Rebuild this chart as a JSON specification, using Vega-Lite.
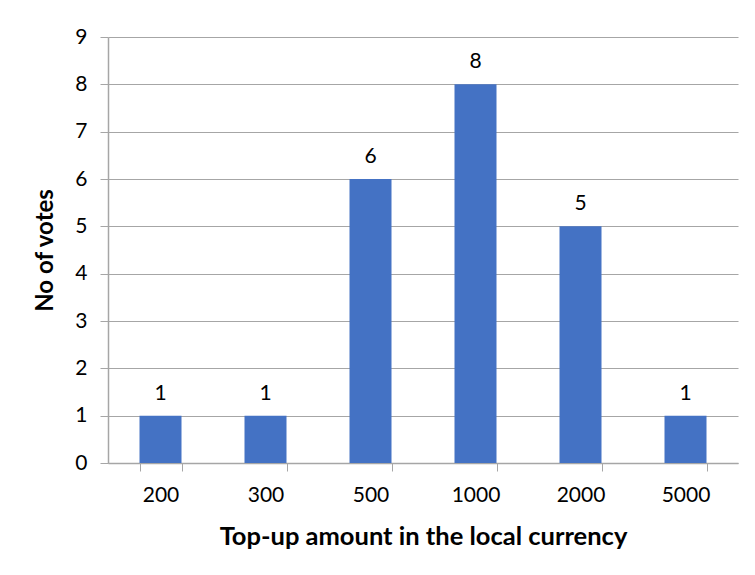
{
  "$schema": "https://vega.github.io/schema/vega-lite/v6.json",
  "autosize": "none",
  "width": 630,
  "height": 426,
  "padding": {"left": 108, "top": 37, "right": 17, "bottom": 112},
  "background": "white",
  "config": {
    "font": "Lato",
    "view": {"stroke": null},
    "axis": {"labelFont": "Lato", "titleFont": "Lato", "labelColor": "#000000", "titleColor": "#000000"}
  },
  "data": {
    "values": [
      {"amount": "200", "votes": 1},
      {"amount": "300", "votes": 1},
      {"amount": "500", "votes": 6},
      {"amount": "1000", "votes": 8},
      {"amount": "2000", "votes": 5},
      {"amount": "5000", "votes": 1}
    ]
  },
  "encoding": {
    "x": {
      "field": "amount", "type": "ordinal", "sort": null,
      "scale": {"paddingInner": 0.6, "paddingOuter": 0.3},
      "axis": {
        "title": "Top-up amount in the local currency",
        "titleFontSize": 25.5, "titleFontWeight": "bold", "titlePadding": 19,
        "labelFontSize": 21, "labelAngle": 0, "labelPadding": 13,
        "tickBand": "extent", "tickSize": 8, "tickColor": "#A6A6A6",
        "domainColor": "#A6A6A6", "domainWidth": 1.5, "grid": false
      }
    },
    "y": {
      "field": "votes", "type": "quantitative",
      "scale": {"domain": [0, 9]},
      "axis": {
        "title": "No of votes", "titleFontSize": 24, "titleFontWeight": "bold", "titlePadding": 17,
        "values": [0,1,2,3,4,5,6,7,8,9], "labelFontSize": 21, "labelPadding": 13,
        "tickSize": 8, "tickColor": "#A6A6A6", "domainColor": "#A6A6A6", "domainWidth": 1.5,
        "gridColor": "#A6A6A6", "gridWidth": 1.2
      }
    }
  },
  "layer": [
    {"mark": {"type": "bar", "color": "#4472C4"}},
    {
      "mark": {"type": "text", "baseline": "alphabetic", "dy": -16, "fontSize": 21, "font": "Lato", "color": "#000000"},
      "encoding": {"text": {"field": "votes"}}
    }
  ]
}
